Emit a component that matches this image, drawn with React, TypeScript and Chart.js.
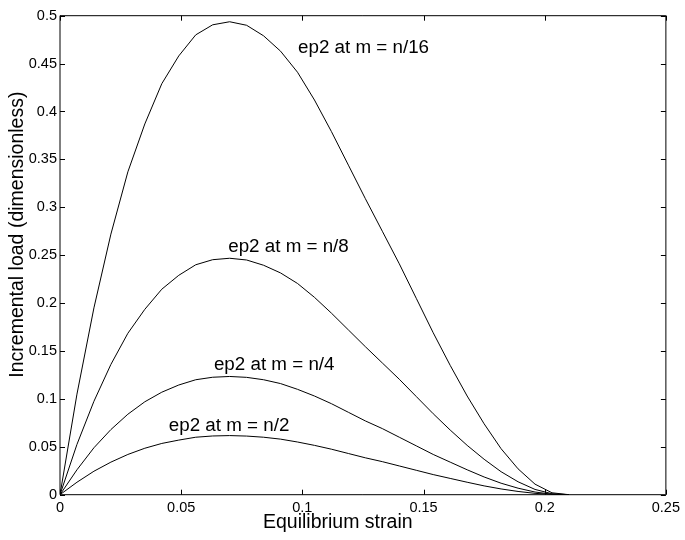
import React, { useEffect, useRef } from "react";
import { Chart, registerables } from "chart.js";
Chart.register(...registerables);

// Equilibrium strain samples
const strain = [0, 0.007, 0.014, 0.021, 0.028, 0.035, 0.042, 0.049, 0.056, 0.063, 0.07, 0.077, 0.084, 0.091, 0.098, 0.105, 0.112, 0.119, 0.126, 0.133, 0.14, 0.147, 0.154, 0.161, 0.168, 0.175, 0.182, 0.189, 0.196, 0.203, 0.21];

// Incremental load for each m
const loadN16 = [0, 0.105, 0.195, 0.272, 0.337, 0.387, 0.429, 0.458, 0.48, 0.4905, 0.4937, 0.49, 0.479, 0.463, 0.441, 0.412, 0.379, 0.344, 0.309, 0.275, 0.241, 0.205, 0.169, 0.135, 0.103, 0.074, 0.048, 0.027, 0.011, 0.002, 0];
const loadN8 = [0, 0.0525, 0.0975, 0.136, 0.1685, 0.1935, 0.2145, 0.229, 0.24, 0.2453, 0.2468, 0.245, 0.2395, 0.2315, 0.2205, 0.206, 0.1895, 0.172, 0.1545, 0.1375, 0.1205, 0.1025, 0.0845, 0.0675, 0.0515, 0.037, 0.024, 0.0135, 0.0055, 0.001, 0];
const loadN4 = [0, 0.026, 0.049, 0.068, 0.084, 0.097, 0.107, 0.1145, 0.12, 0.1226, 0.1234, 0.1225, 0.12, 0.116, 0.11, 0.103, 0.095, 0.086, 0.077, 0.069, 0.06, 0.051, 0.042, 0.034, 0.026, 0.0185, 0.012, 0.0068, 0.0028, 0.0005, 0];
const loadN2 = [0, 0.013, 0.0245, 0.034, 0.042, 0.0485, 0.0535, 0.057, 0.06, 0.0613, 0.0617, 0.0612, 0.06, 0.058, 0.055, 0.0515, 0.0475, 0.043, 0.0385, 0.0345, 0.03, 0.0255, 0.021, 0.017, 0.013, 0.0092, 0.006, 0.0034, 0.0014, 0.0003, 0];

// Curve annotations (text, x, y baseline in data units)
const annoText = ["ep2 at m = n/16", "ep2 at m = n/8", "ep2 at m = n/4", "ep2 at m = n/2"];
const annoX = [0.0982, 0.0694, 0.0635, 0.0449];
const annoY = [0.461, 0.253, 0.13, 0.0665];

// Tick values and labels
const xTicks = [0, 0.05, 0.1, 0.15, 0.2, 0.25];
const xTickLabels = ["0", "0.05", "0.1", "0.15", "0.2", "0.25"];
const yTicks = [0, 0.05, 0.1, 0.15, 0.2, 0.25, 0.3, 0.35, 0.4, 0.45, 0.5];
const yTickLabels = ["0", "0.05", "0.1", "0.15", "0.2", "0.25", "0.3", "0.35", "0.4", "0.45", "0.5"];

const xTitle = "Equilibrium strain";
const yTitle = "Incremental load (dimensionless)";

const FONT = "'Liberation Sans', Arial, Helvetica, sans-serif";

const boxPlugin = {
  id: "matlabBox",
  afterDraw(chart: any) {
    const { ctx, chartArea, scales } = chart;
    const { left, right, top, bottom } = chartArea;
    ctx.save();
    ctx.strokeStyle = "#000";
    ctx.lineWidth = 1;
    ctx.beginPath();
    ctx.rect(left, top, right - left, bottom - top);
    ctx.stroke();
    const tl = 5;
    ctx.beginPath();
    xTicks.forEach((v) => {
      const px = Math.round(scales.x.getPixelForValue(v)) + 0.5;
      ctx.moveTo(px, bottom);
      ctx.lineTo(px, bottom - tl);
      ctx.moveTo(px, top);
      ctx.lineTo(px, top + tl);
    });
    yTicks.forEach((v) => {
      const py = Math.round(scales.y.getPixelForValue(v)) + 0.5;
      ctx.moveTo(left, py);
      ctx.lineTo(left + tl, py);
      ctx.moveTo(right, py);
      ctx.lineTo(right - tl, py);
    });
    ctx.stroke();

    ctx.fillStyle = "#000";
    ctx.font = `18.8px ${FONT}`;
    ctx.textAlign = "left";
    ctx.textBaseline = "alphabetic";
    annoText.forEach((t, i) => {
      ctx.fillText(t, scales.x.getPixelForValue(annoX[i]), scales.y.getPixelForValue(annoY[i]));
    });

    // axis titles
    ctx.font = `19.5px ${FONT}`;
    ctx.textAlign = "left";
    ctx.fillText(xTitle, left + 203, bottom + 33.5);
    ctx.save();
    ctx.translate(left - 37.5, bottom - 117);
    ctx.rotate(-Math.PI / 2);
    ctx.fillText(yTitle, 0, 0);
    ctx.restore();
    ctx.restore();
  },
};

export default function App() {
  const ref = useRef<HTMLCanvasElement | null>(null);
  useEffect(() => {
    document.body.style.margin = "0";
    const mk = (arr: number[]) => strain.map((x, i) => ({ x, y: arr[i] }));
    const ds = (arr: number[], label: string) => ({
      label,
      data: mk(arr),
      showLine: true,
      borderColor: "#000",
      backgroundColor: "#000",
      borderWidth: 1,
      pointRadius: 0,
      pointHoverRadius: 0,
      tension: 0,
      fill: false,
    });
    const chart = new Chart(ref.current as HTMLCanvasElement, {
      type: "scatter",
      data: {
        datasets: [ds(loadN16, "n/16"), ds(loadN8, "n/8"), ds(loadN4, "n/4"), ds(loadN2, "n/2")],
      },
      options: {
        animation: false,
        responsive: true,
        maintainAspectRatio: false,
        layout: { padding: { left: 0, top: 15.7, right: 18.5, bottom: 0 } },
        plugins: { legend: { display: false }, tooltip: { enabled: false }, title: { display: false } },
        scales: {
          x: {
            type: "linear",
            min: 0,
            max: 0.25,
            grid: { display: false, drawTicks: false },
            border: { display: false },
            afterBuildTicks: (s: any) => {
              s.ticks = xTicks.map((v) => ({ value: v }));
            },
            afterFit: (s: any) => {
              s.height = 45.3;
            },
            ticks: {
              padding: 5,
              color: "#000",
              maxRotation: 0,
              autoSkip: false,
              font: { family: FONT, size: 14.5 },
              callback: (v: any) => xTickLabels[xTicks.indexOf(Number(v))] ?? "",
            },
          },
          y: {
            type: "linear",
            min: 0,
            max: 0.5,
            grid: { display: false, drawTicks: false },
            border: { display: false },
            afterBuildTicks: (s: any) => {
              s.ticks = yTicks.map((v) => ({ value: v }));
            },
            afterFit: (s: any) => {
              s.width = 60;
            },
            ticks: {
              padding: 3,
              color: "#000",
              autoSkip: false,
              font: { family: FONT, size: 14.5 },
              callback: (v: any) => yTickLabels[yTicks.indexOf(Number(v))] ?? "",
            },
          },
        },
      },
      plugins: [boxPlugin],
    });
    return () => chart.destroy();
  }, []);
  return (
    <div style={{ width: 685, height: 540, position: "relative", background: "#fff" }}>
      <canvas ref={ref} />
    </div>
  );
}
